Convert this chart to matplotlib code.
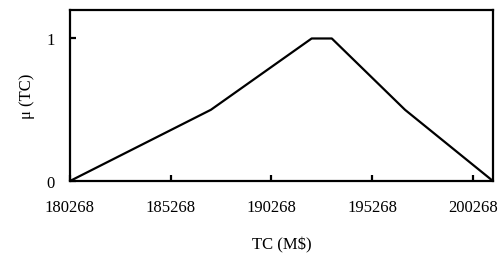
import matplotlib
matplotlib.use("Agg")
import matplotlib.pyplot as plt

# fuzzy total cost membership function
tc = [180268, 187268, 192268, 193268, 196900, 201268]
mu = [0, 0.5, 1, 1, 0.5, 0]
xticks = [180268, 185268, 190268, 195268, 200268]
yticks = [0, 1]

plt.rcParams["font.family"] = ["Liberation Serif", "DejaVu Serif"]
plt.rcParams["font.size"] = 12

fig = plt.figure(figsize=(4.99, 2.55), dpi=100)
ax = fig.add_axes([0.140, 0.286, 0.848, 0.671])
ax.plot(tc, mu, color="black", linewidth=1.6)

ax.set_xlim(180268, 201268)
ax.set_ylim(0, 1.2)
ax.set_xticks(xticks)
ax.set_xticklabels([str(v) for v in xticks])
ax.set_yticks(yticks)
for s in ax.spines.values():
    s.set_linewidth(1.6)
ax.tick_params(direction="in", length=4, width=1.6, labelsize=12)
ax.tick_params(axis="x", pad=13)
ax.tick_params(axis="y", pad=11)

ax.set_xlabel("TC (M$)")
ax.set_ylabel("μ (TC)")
ax.xaxis.set_label_coords(0.5, -0.32)
ax.yaxis.set_label_coords(-0.083, 0.5)

fig.savefig("out.png", dpi=100)
